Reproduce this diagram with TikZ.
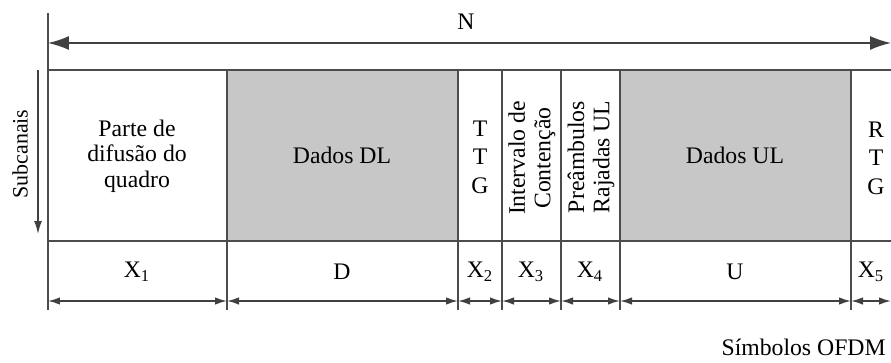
\documentclass[tikz,border=0pt]{standalone}
\usepackage{fontspec}
\setmainfont{Liberation Serif}
\usetikzlibrary{arrows.meta,positioning,calc}

\begin{document}
\begin{tikzpicture}[
        x=0.02cm, y=-0.02cm,
        frame/.style={draw=black!70, line width=0.9pt},
        dataarea/.style={fill=black!22},
        celltext/.style={font=\fontsize{13.5}{14.5}\selectfont, align=center, inner sep=0pt},
        stacked/.style={font=\fontsize{13.5}{16.2}\selectfont, align=center, inner sep=0pt},
        dimarrow/.style={draw=black!75, line width=0.9pt, {Latex[length=0.24cm,width=0.15cm]}-{Latex[length=0.24cm,width=0.15cm]}},
        spanarrow/.style={draw=black!75, line width=0.9pt, {Latex[length=0.42cm,width=0.28cm]}-{Latex[length=0.42cm,width=0.28cm]}},
        subarrow/.style={draw=black!75, line width=0.9pt, -{Latex[length=0.26cm,width=0.16cm]}}
    ]
    \useasboundingbox (0,0) rectangle (891,362);

    % Column borders of the frame
    \foreach \n/\x in {0/48,1/227,2/458,3/502,4/561,5/620,6/851,7/891} {
        \coordinate (t\n) at (\x,70);
        \coordinate (m\n) at (\x,241);
        \coordinate (a\n) at (\x,301);
        \coordinate (f\n) at (\x,310);
    }

    % DL and UL data bursts
    \path [dataarea] (t1) rectangle (m2);
    \path [dataarea] (t5) rectangle (m6);

    % Grid lines
    \draw [frame] (t0) -- (t7);
    \draw [frame] (m0) -- (m7);
    \coordinate (top) at (48,13);
    \draw [frame] (top) -- (f0);
    \foreach \n in {1,...,6}
        \draw [frame] (t\n) -- (f\n);

    % Frame length N
    \coordinate (nl) at (48,43);
    \coordinate (nr) at (891,43);
    \path [spanarrow] (nl) -- (nr);
    \node [celltext] (nlabel) at (466,22) {N};

    % Subchannel axis
    \coordinate (s0) at (38,70);
    \coordinate (s1) at (38,234);
    \path [subarrow] (s0) -- (s1);
    \node [font=\fontsize{12.5}{14}\selectfont, rotate=90, inner sep=0pt] (sub) at (20,154) {Subcanais};

    % Zone contents
    \node [celltext] (bcast) at (137,156) {Parte de\\difusão do\\quadro};
    \node [celltext] (dl) at (342,155) {Dados DL};
    \node [stacked] (ttg) at (480,157) {T\\T\\G};
    \node [celltext, rotate=90] (cont) at (532,158) {Intervalo de\\Contenção};
    \node [celltext, rotate=90] (pre) at (591,157) {Preâmbulos\\Rajadas UL};
    \node [celltext] (ul) at (735,155) {Dados UL};
    \node [stacked] (rtg) at (876,158) {R\\T\\G};

    % Zone widths
    \node [celltext] (x1) at (137,272) {X\textsubscript{1}};
    \node [celltext] (d) at (342,272) {D};
    \node [celltext] (x2) at (480,272) {X\textsubscript{2}};
    \node [celltext] (x3) at (531,272) {X\textsubscript{3}};
    \node [celltext] (x4) at (590,272) {X\textsubscript{4}};
    \node [celltext] (u) at (735,272) {U};
    \node [celltext] (x5) at (871,272) {X\textsubscript{5}};
    \foreach \a/\b in {0/1,1/2,2/3,3/4,4/5,5/6,6/7}
        \path [dimarrow] (a\a) -- (a\b);

    % Time axis
    \node [celltext, anchor=east] (ofdm) at (886,347) {Símbolos OFDM};

\end{tikzpicture}
\end{document}
